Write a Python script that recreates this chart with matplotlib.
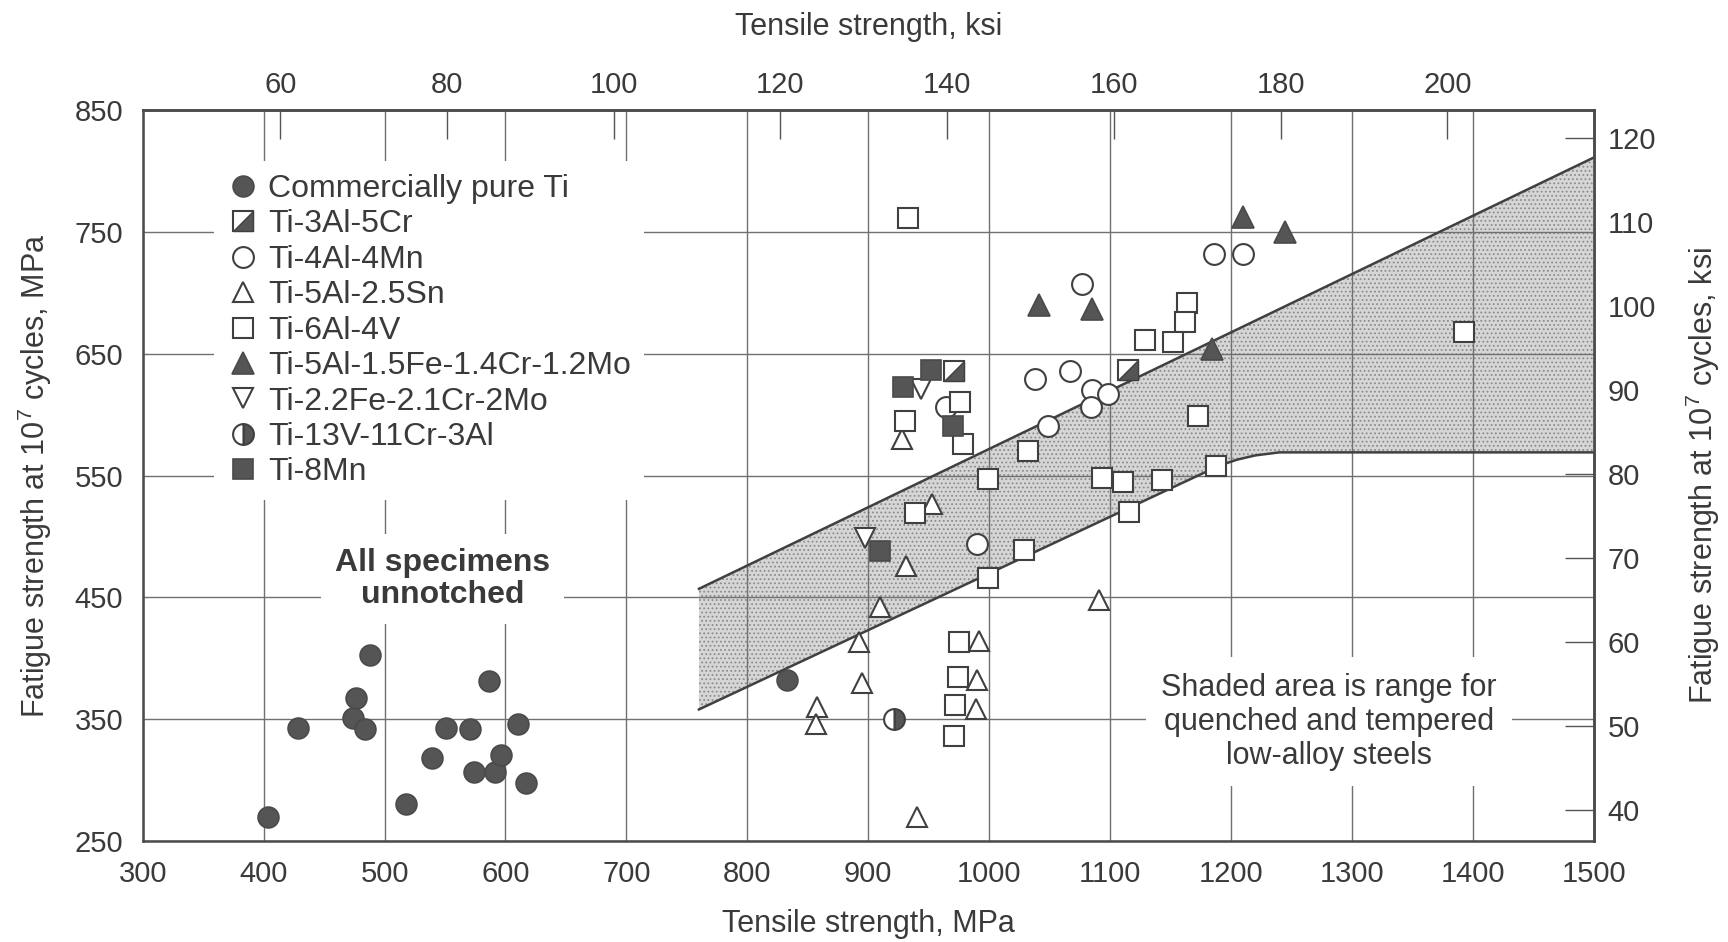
import numpy as np
import matplotlib.pyplot as plt
from matplotlib.path import Path

plt.rcParams['font.family'] = ['Liberation Sans', 'DejaVu Sans']
plt.rcParams['mathtext.default'] = 'regular'
plt.rcParams['hatch.linewidth'] = 0.8

# tensile strength (MPa) / fatigue strength at 1e7 cycles (MPa)
cp_ti_x = [404, 428, 474, 476, 484, 488, 518, 539, 551, 571, 574, 586, 591, 596, 610, 617, 833]
cp_ti_y = [270, 343, 351, 367, 342, 403, 280, 318, 343, 342, 307, 381, 307, 321, 346, 298, 382]

ti3al5cr_x = [971, 1115]
ti3al5cr_y = [636, 637]

ti4al4mn_x = [964, 1038, 1067, 1077, 1085, 1098, 1084, 1049, 990, 1186, 1210]
ti4al4mn_y = [606, 629, 636, 707, 620, 617, 606, 591, 494, 732, 732]

ti5al25sn_x = [928, 953, 931, 910, 892, 895, 858, 857, 940, 992, 990, 989, 1091]
ti5al25sn_y = [580, 527, 476, 442, 413, 380, 360, 346, 270, 414, 382, 358, 448]

ti6al4v_x = [933, 1164, 1162, 1129, 1152, 930, 976, 978, 1173, 1032, 999, 1093, 1111,
             1143, 1188, 1116, 939, 1029, 999, 975, 974, 972, 971, 1393]
ti6al4v_y = [761, 692, 676, 661, 660, 595, 610, 576, 599, 570, 547, 548, 545,
             546, 558, 520, 519, 489, 466, 413, 385, 362, 336, 668]

ti5al_fe_cr_mo_x = [1210, 1245, 1041, 1085, 1184]
ti5al_fe_cr_mo_y = [762, 750, 690, 687, 654]

ti22fe_x = [944, 897]
ti22fe_y = [621, 499]

ti13v_x = [921]
ti13v_y = [350]

ti8mn_x = [952, 929, 970, 910]
ti8mn_y = [637, 623, 591, 488]

# quenched and tempered low-alloy steel band (corner points)
band_upper_x = [760, 1500]
band_upper_y = [457, 811]
band_lower_x = [760, 1190, 1205, 1220, 1240, 1500]
band_lower_y = [358, 558, 563, 566.5, 569, 569]

ink = '#3a3a3a'
dark = '#555555'
grid_c = '#707070'

fig = plt.figure(figsize=(17.28, 9.42), dpi=100)
ax = fig.add_axes([0.0826, 0.1072, 0.8397, 0.776])
ax.set_xlim(300, 1500)
ax.set_ylim(250, 850)
ax.set_xticks(range(300, 1501, 100))
ax.set_yticks(range(250, 851, 100))
ax.tick_params(length=0, labelsize=21, labelcolor=ink, pad=14)
ax.grid(True, color=grid_c, lw=1.0)
for s in ax.spines.values():
    s.set_color('#4a4a4a')
    s.set_linewidth(1.8)

# shaded band (stippled)
poly_x = band_upper_x + band_lower_x[::-1]
poly_y = band_upper_y + band_lower_y[::-1]
ax.fill(poly_x, poly_y, facecolor='#d6d6d6', hatch='....', edgecolor='#8c8c8c', lw=0, zorder=1)
ax.plot(band_upper_x, band_upper_y, color='#404040', lw=1.8, zorder=2.5)
ax.plot(band_lower_x, band_lower_y, color='#404040', lw=1.8, zorder=2.5)

mk = dict(ls='none', zorder=4)
h_cp, = ax.plot(cp_ti_x, cp_ti_y, 'o', ms=15, mfc=dark, mec='#4a4a4a', mew=1.2, **mk)
h_sq, = ax.plot(ti3al5cr_x, ti3al5cr_y, 's', ms=14, mfc='white', mec='#404040', mew=1.5, **mk)
tri_path = Path([(-1, -1), (1, -1), (1, 1), (-1, -1)], [1, 2, 2, 79])
h_tr, = ax.plot(ti3al5cr_x, ti3al5cr_y, marker=tri_path, ms=14, mfc=dark, mec='#404040', mew=1.0,
                ls='none', zorder=4.1)
h_oc, = ax.plot(ti4al4mn_x, ti4al4mn_y, 'o', ms=15, mfc='white', mec='#404040', mew=1.5, **mk)
h_ot, = ax.plot(ti5al25sn_x, ti5al25sn_y, '^', ms=15, mfc='white', mec='#404040', mew=1.5, **mk)
h_os, = ax.plot(ti6al4v_x, ti6al4v_y, 's', ms=14, mfc='white', mec='#404040', mew=1.5, **mk)
h_ft, = ax.plot(ti5al_fe_cr_mo_x, ti5al_fe_cr_mo_y, '^', ms=16, mfc=dark, mec='#4a4a4a', mew=1.2, **mk)
h_iv, = ax.plot(ti22fe_x, ti22fe_y, 'v', ms=15, mfc='white', mec='#404040', mew=1.5, **mk)
h_hc, = ax.plot(ti13v_x, ti13v_y, 'o', ms=15, fillstyle='right', mfc=dark, mfcalt='white',
                mec='#404040', mew=1.5, **mk)
h_fs, = ax.plot(ti8mn_x, ti8mn_y, 's', ms=15, mfc=dark, mec='#4a4a4a', mew=1.2, **mk)

handles = [h_cp, (h_sq, h_tr), h_oc, h_ot, h_os, h_ft, h_iv, h_hc, h_fs]
labels = ['Commercially pure Ti', 'Ti-3Al-5Cr', 'Ti-4Al-4Mn', 'Ti-5Al-2.5Sn', 'Ti-6Al-4V',
          'Ti-5Al-1.5Fe-1.4Cr-1.2Mo', 'Ti-2.2Fe-2.1Cr-2Mo', 'Ti-13V-11Cr-3Al', 'Ti-8Mn']
leg = ax.legend(handles, labels, loc='upper left', bbox_to_anchor=(0.049, 0.93),
                borderaxespad=0, borderpad=0.4, fontsize=23, labelspacing=0.17,
                handlelength=1.0, handletextpad=0.3, numpoints=1,
                frameon=True, fancybox=False, framealpha=1)
leg.get_frame().set_edgecolor('none')
leg.get_frame().set_facecolor('white')
for t in leg.get_texts():
    t.set_color(ink)

ax.text(548, 465, 'All specimens\nunnotched', ha='center', va='center', fontsize=23,
        fontweight='bold', color=ink, linespacing=1.1, zorder=3,
        bbox=dict(facecolor='white', edgecolor='none', pad=10))
ax.text(1281, 348, 'Shaded area is range for\nquenched and tempered\nlow-alloy steels',
        ha='center', va='center', fontsize=22, color=ink, linespacing=1.17, zorder=3,
        bbox=dict(facecolor='white', edgecolor='none', pad=11))

ax.set_xlabel('Tensile strength, MPa', fontsize=22, color=ink, labelpad=15)
ax.set_ylabel('Fatigue strength at 10$^7$ cycles, MPa', fontsize=22, color=ink, labelpad=15)

secx = ax.secondary_xaxis('top', functions=(lambda m: m / 6.895, lambda k: k * 6.895))
secx.set_xticks(range(60, 201, 20))
secx.tick_params(direction='in', length=21, width=1.0, color='#555555',
                 labelsize=21, labelcolor=ink, pad=8)
secx.set_xlabel('Tensile strength, ksi', fontsize=22, color=ink, labelpad=26)

secy = ax.secondary_yaxis('right', functions=(lambda m: m / 6.895, lambda k: k * 6.895))
secy.set_yticks(range(40, 121, 10))
secy.tick_params(direction='in', length=21, width=1.0, color='#555555',
                 labelsize=21, labelcolor=ink, pad=10)
secy.set_ylabel('Fatigue strength at 10$^7$ cycles, ksi', fontsize=22, color=ink, labelpad=20)
for s in list(secx.spines.values()) + list(secy.spines.values()):
    s.set_color('#4a4a4a')
    s.set_linewidth(1.8)

fig.savefig('out.png', dpi=100)
